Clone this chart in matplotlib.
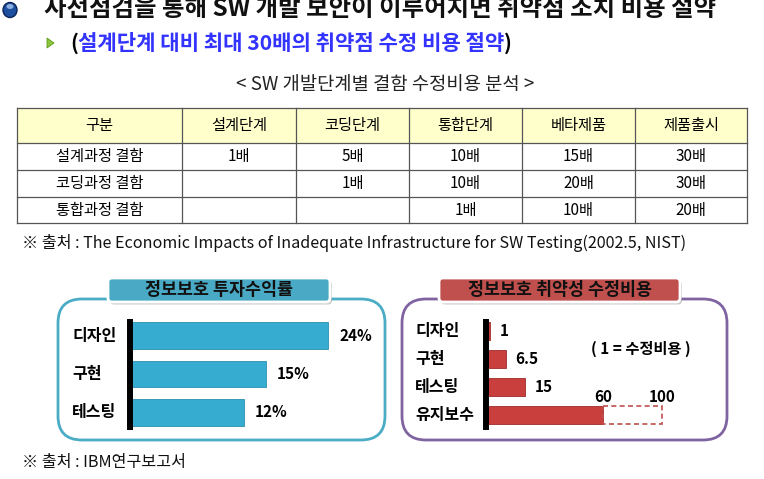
import matplotlib
matplotlib.use("Agg")
import matplotlib.pyplot as plt
from matplotlib.patches import FancyBboxPatch, Ellipse, Polygon, Rectangle
from matplotlib import transforms
import numpy as np

plt.rcParams['font.family'] = ['Noto Sans CJK KR', 'DejaVu Sans']

# ---- data ----
title = "사전점검을 통해 SW 개발 보안이 이루어지면 취약점 조치 비용 절약"
subtitle = "설계단계 대비 최대 30배의 취약점 수정 비용 절약"
table_caption = "< SW 개발단계별 결함 수정비용 분석 >"
col_labels = ["구분", "설계단계", "코딩단계", "통합단계", "베타제품", "제품출시"]
row_labels = ["설계과정 결함", "코딩과정 결함", "통합과정 결함"]
cost_table = [[1, 5, 10, 15, 30],
              [None, 1, 10, 20, 30],
              [None, None, 1, 10, 20]]
source1 = "※ 출처 : The Economic Impacts of Inadequate Infrastructure for SW Testing(2002.5, NIST)"
source2 = "※ 출처 : IBM연구보고서"

roi_title = "정보보호 투자수익률"
roi_labels = ["디자인", "구현", "테스팅"]
roi_values = [24, 15, 12]

fix_title = "정보보호 취약성 수정비용"
fix_labels = ["디자인", "구현", "테스팅", "유지보수"]
fix_values = [1, 6.5, 15, 60]
fix_upper = 100
fix_note = "( 1 = 수정비용 )"

W, H = 764, 479
fig = plt.figure(figsize=(W / 100, H / 100), dpi=100)
base = fig.add_axes([0, 0, 1, 1])
base.set_xlim(0, W)
base.set_ylim(H, 0)
base.axis('off')


def px_axes(x0, y0, x1, y1):
    return fig.add_axes([x0 / W, 1 - y1 / H, (x1 - x0) / W, (y1 - y0) / H])


# ---- headings ----
base.add_patch(Ellipse((10, 10), 14, 15, fc='#1d4f9e', ec='#0b2457', lw=1))
base.add_patch(Ellipse((10, 6.5), 7, 5, fc='#a9c8f0', ec='none', alpha=0.8))
base.text(44, 9, title, fontsize=17.6, fontweight='bold', va='center', color='#111111')

base.add_patch(Polygon([[47, 38], [47, 48], [54, 43]], closed=True, fc='#8cc63f', ec='#5f9a1f', lw=0.6))
t1 = base.text(70, 43, "(", fontsize=15.2, fontweight='bold', va='center', color='black')
t2 = base.annotate(subtitle, xycoords=t1, xy=(1, 0.5), va='center', fontsize=15.2,
                   fontweight='bold', color='#3333ff')
base.annotate(")", xycoords=t2, xy=(1, 0.5), va='center', fontsize=15.2,
              fontweight='bold', color='black')

base.text(385, 84, table_caption, fontsize=13.5, ha='center', va='center', color='#222222')

# ---- table ----
col_x = [17, 182, 296, 409, 522, 635, 747]
row_y = [108, 143, 170, 197, 223]
base.add_patch(Rectangle((col_x[0], row_y[0]), col_x[-1] - col_x[0], row_y[1] - row_y[0],
                         fc='#ffffcc', ec='none'))
for y in row_y:
    base.plot([col_x[0], col_x[-1]], [y, y], color='#555555', lw=0.9)
for x in col_x:
    base.plot([x, x], [row_y[0], row_y[-1]], color='#555555', lw=0.9)

for j, lab in enumerate(col_labels):
    base.text((col_x[j] + col_x[j + 1]) / 2, (row_y[0] + row_y[1]) / 2, lab,
              ha='center', va='center', fontsize=11)
for i, lab in enumerate(row_labels):
    yc = (row_y[i + 1] + row_y[i + 2]) / 2
    base.text((col_x[0] + col_x[1]) / 2, yc, lab, ha='center', va='center', fontsize=11)
    for j, v in enumerate(cost_table[i]):
        if v is not None:
            base.text((col_x[j + 1] + col_x[j + 2]) / 2, yc, f"{v}배",
                      ha='center', va='center', fontsize=11)

base.text(22, 243, source1, fontsize=11.6, va='center', color='#111111')
base.text(22, 462, source2, fontsize=11.6, va='center', color='#111111')


# ---- panels ----
def panel(x0, y0, x1, y1, edge):
    base.add_patch(FancyBboxPatch((x0, y0), x1 - x0, y1 - y0,
                                  boxstyle="round,pad=0,rounding_size=24",
                                  fc='white', ec=edge, lw=2))


def title_box(x0, y0, x1, y1, fc, text):
    base.add_patch(FancyBboxPatch((x0 + 2, y0 + 2.5), x1 - x0, y1 - y0,
                                  boxstyle="round,pad=0,rounding_size=4",
                                  fc='#999999', ec='none', alpha=0.5))
    base.add_patch(FancyBboxPatch((x0, y0), x1 - x0, y1 - y0,
                                  boxstyle="round,pad=0,rounding_size=4",
                                  fc=fc, ec='white', lw=2))
    base.text((x0 + x1) / 2, (y0 + y1) / 2, text, ha='center', va='center',
              fontsize=12.5, fontweight='bold', color='#111111')


panel(58, 299, 385, 440, '#4bacc6')
title_box(108, 278, 330, 302, '#4aaac5', roi_title)
panel(402, 299, 727, 440, '#8064a2')
title_box(439, 278, 680, 302, '#c0504d', fix_title)


def fwd(v):
    return np.sign(v) * np.abs(v) ** 0.8


def inv(v):
    return np.sign(v) * np.abs(v) ** 1.25


def bar_axes(x0, x1, y0, y1, ylim):
    ax = px_axes(x0, y0, x1, y1)
    ax.set_xscale('function', functions=(fwd, inv))
    ax.set_ylim(*ylim)
    for s in ['top', 'right', 'bottom']:
        ax.spines[s].set_visible(False)
    ax.spines['left'].set_linewidth(4.3)
    ax.spines['left'].set_color('black')
    ax.set_xticks([])
    ax.set_yticks([])
    ax.patch.set_alpha(0)
    return ax


# left: ROI
axl = bar_axes(130, 385, 322, 427, (2.377, -0.351))
axl.set_xlim(0, inv(fwd(24) * 255 / 198))
pos_l = np.arange(len(roi_values))
axl.barh(pos_l, roi_values, height=0.70, color='#35acd0', edgecolor='#2c8fb0', lw=0.6)
for i, v in enumerate(roi_values):
    axl.annotate(f"{v}%", xy=(v, i), xytext=(8, 0), textcoords='offset points',
                 va='center', fontsize=11, fontweight='bold')
tl = transforms.blended_transform_factory(base.transData, axl.transData)
for i, lab in enumerate(roi_labels):
    axl.text(72, i, lab, transform=tl, va='center', fontsize=11.5, fontweight='bold')

# right: fix cost
axr = bar_axes(486, 727, 322, 427, (3.43, -0.32))
axr.set_xlim(0, inv(fwd(100) * 241 / 176))
pos_r = np.arange(len(fix_values))
axr.barh(pos_r, fix_values, height=0.64, color='#c83f3e', edgecolor='#9c2c2b', lw=0.6)
axr.barh(pos_r[-1], fix_upper - fix_values[-1], left=fix_values[-1], height=0.64,
         fill=False, edgecolor='#c0504d', linestyle=(0, (3, 2)), lw=1.2)
for i, v in enumerate(fix_values[:-1]):
    axr.annotate(f"{v:g}", xy=(v, i), xytext=(7, 0), textcoords='offset points',
                 va='center', fontsize=11, fontweight='bold')
for v in [fix_values[-1], fix_upper]:
    axr.annotate(f"{v:g}", xy=(v, pos_r[-1]), xytext=(0, 13), textcoords='offset points',
                 ha='center', va='center', fontsize=11, fontweight='bold')
tr = transforms.blended_transform_factory(base.transData, axr.transData)
for i, lab in enumerate(fix_labels):
    axr.text(415, i, lab, transform=tr, va='center', fontsize=11.5, fontweight='bold')
base.text(641, 349, fix_note, ha='center', va='center', fontsize=11, fontweight='bold')

fig.savefig("out.png", dpi=100)
